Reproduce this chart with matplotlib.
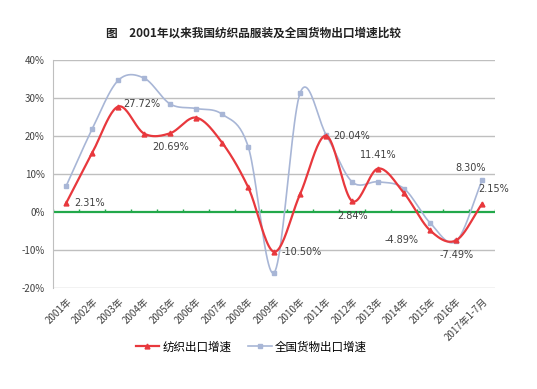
import numpy as np
import matplotlib
matplotlib.use("Agg")
import matplotlib.pyplot as plt
from matplotlib.lines import Line2D

plt.rcParams['font.family'] = ['Noto Sans CJK SC', 'DejaVu Sans']

years = ['2001年', '2002年', '2003年', '2004年', '2005年', '2006年', '2007年', '2008年',
         '2009年', '2010年', '2011年', '2012年', '2013年', '2014年', '2015年', '2016年',
         '2017年1-7月']
textile = [2.31, 15.5, 27.72, 20.6, 20.69, 24.8, 18.2, 6.5, -10.50, 4.7, 20.04, 2.84,
           11.41, 4.9, -4.89, -7.49, 2.15]
goods = [6.8, 21.8, 34.6, 35.2, 28.4, 27.2, 25.7, 17.2, -16.0, 31.3, 20.3, 7.9,
         7.9, 6.1, -2.9, -7.7, 8.30]
labels = {0: '2.31%', 2: '27.72%', 4: '20.69%', 8: '-10.50%', 10: '20.04%', 11: '2.84%',
          12: '11.41%', 14: '-4.89%', 15: '-7.49%', 16: '2.15%'}
ylabels = ['-20%', '-10%', '0%', '10%', '20%', '30%', '40%']

red = '#e8383d'
blue = '#a8b6d6'


def smooth(x, y, n=24):
    # catmull-rom style curve through the points, like excel's smoothed line
    x = np.asarray(x, float)
    y = np.asarray(y, float)
    px = np.concatenate([[2 * x[0] - x[1]], x, [2 * x[-1] - x[-2]]])
    py = np.concatenate([[2 * y[0] - y[1]], y, [2 * y[-1] - y[-2]]])
    xs, ys = [], []
    t = np.linspace(0, 1, n)
    for i in range(1, len(px) - 2):
        for p, out in ((px, xs), (py, ys)):
            p0, p1, p2, p3 = p[i - 1], p[i], p[i + 1], p[i + 2]
            out.extend(0.5 * ((2 * p1) + (-p0 + p2) * t + (2 * p0 - 5 * p1 + 4 * p2 - p3) * t ** 2
                              + (-p0 + 3 * p1 - 3 * p2 + p3) * t ** 3))
    return np.array(xs), np.array(ys)


fig = plt.figure(figsize=(5.37, 3.89), dpi=100)
ax = fig.add_axes([0.099, 0.26, 0.823, 0.586])
x = np.arange(len(years))

for v in range(-20, 41, 10):
    if v != 0:
        ax.axhline(v, color='#bfbfbf', lw=1, zorder=0)
ax.axhline(0, color='#22a84a', lw=1.6, zorder=1)
ax.vlines(np.arange(len(years) + 1) - 0.5, 0, 0.8, color='#22a84a', lw=1, zorder=1)

sx, sy = smooth(x, goods)
ax.plot(sx, sy, color=blue, lw=1.2, zorder=2)
ax.plot(x, goods, 's', color=blue, ms=2.2, zorder=3)
sx, sy = smooth(x, textile)
ax.plot(sx, sy, color=red, lw=1.6, zorder=4)
ax.plot(x, textile, '^', color=red, ms=3.5, zorder=5)

offsets = {0: (6, 0, 'left', 'center'), 2: (4, 1.5, 'left', 'center'),
           4: (0, -3.5, 'center', 'center'), 8: (5, 0, 'left', 'center'),
           10: (5, 0, 'left', 'center'), 11: (0, -3.8, 'center', 'center'),
           12: (0, 3.5, 'center', 'center'), 14: (-1.1, -2.6, 'center', 'center'),
           15: (0, -3.8, 'center', 'center'), 16: (0.45, 4.0, 'center', 'center')}
for i, txt in labels.items():
    dx, dy, ha, va = offsets[i]
    if ha == 'left':
        ax.annotate(txt, (x[i], textile[i]), xytext=(dx, dy), textcoords='offset points',
                    ha=ha, va=va, fontsize=7, color='#404040', family='DejaVu Sans')
    else:
        ax.text(x[i] + dx, textile[i] + dy, txt, ha=ha, va=va, fontsize=7,
                color='#404040', family='DejaVu Sans')
ax.text(x[16] - 0.45, goods[16] + 3.2, '8.30%', ha='center', va='center', fontsize=7,
        color='#404040', family='DejaVu Sans')

ax.set_xlim(-0.5, len(years) - 0.5)
ax.set_ylim(-20, 40)
ax.set_yticks(range(-20, 41, 10))
ax.set_yticklabels(ylabels, fontsize=7, color='#404040')
ax.set_xticks(x)
ax.set_xticklabels(years, rotation=45, ha='right', rotation_mode='anchor', fontsize=7,
                   color='#404040')
ax.tick_params(length=0, pad=6)
for s in ['top', 'right', 'bottom']:
    ax.spines[s].set_visible(False)
ax.spines['left'].set_color('#bfbfbf')

fig.text(0.472, 0.915, '图　2001年以来我国纺织品服装及全国货物出口增速比较', ha='center',
         va='center', fontsize=8.4, fontweight='bold', color='#222222')

handles = [Line2D([], [], color=red, lw=1.6, marker='^', ms=3.5),
           Line2D([], [], color=blue, lw=1.2, marker='s', ms=2.2)]
fig.legend(handles, ['纺织出口增速', '全国货物出口增速'], loc='center', bbox_to_anchor=(0.468, 0.108),
           ncol=2, frameon=False, fontsize=8.3, handlelength=2.0, handletextpad=0.3,
           columnspacing=1.5)

fig.savefig('out.png', dpi=100)
